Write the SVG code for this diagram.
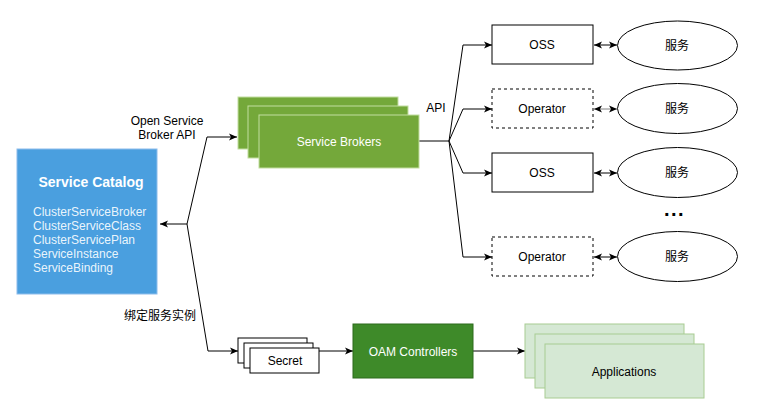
<svg xmlns="http://www.w3.org/2000/svg" width="770" height="418" viewBox="0 0 770 418">
<defs>
<marker id="ah" markerWidth="10" markerHeight="10" refX="9" refY="5" orient="auto" markerUnits="userSpaceOnUse">
<path d="M1,1.5 L9,5 L1,8.5 L3,5 Z" fill="#000"/>
</marker>
<marker id="as" markerWidth="10" markerHeight="10" refX="1" refY="5" orient="auto" markerUnits="userSpaceOnUse">
<path d="M9,1.5 L1,5 L9,8.5 L7,5 Z" fill="#000"/>
</marker>
</defs>
<style>
text{font-family:"Liberation Sans","Noto Sans CJK SC",Arial,sans-serif;font-size:12px}
.c{text-anchor:middle}
.w{fill:#fff}
.box{fill:#fff;stroke:#000;stroke-width:1}
.dash{fill:#fff;stroke:#000;stroke-width:1;stroke-dasharray:3,3}
.svc{fill:#fff;stroke:#000;stroke-width:1}
.sb{fill:#74A83A;stroke:#C2DDA0;stroke-width:1}
.app{fill:#D5E8D4;stroke:#A8CC92;stroke-width:1}
.ln{fill:none;stroke:#000;stroke-width:1}
</style>
<rect width="770" height="418" fill="#fff"/>
<g id="connectors">
<path class="ln" d="M187,224 L160,224" marker-end="url(#ah)"/>
<path class="ln" d="M187,224 L207,137 L237,137" marker-end="url(#ah)"/>
<path class="ln" d="M187,224 L208,351 L238,351" marker-end="url(#ah)"/>
<path class="ln" d="M419,141 L449,141"/>
<path class="ln" d="M449,141 L463,45 L492,45" marker-end="url(#ah)"/>
<path class="ln" d="M449,141 L463,109 L492,109" marker-end="url(#ah)"/>
<path class="ln" d="M449,141 L463,173 L492,173" marker-end="url(#ah)"/>
<path class="ln" d="M449,141 L463,257 L492,257" marker-end="url(#ah)"/>
<path class="ln" d="M594,45 L617,45" marker-start="url(#as)" marker-end="url(#ah)"/>
<path class="ln" d="M594,109 L617,109" style="stroke:#808080" marker-start="url(#as)" marker-end="url(#ah)"/>
<path class="ln" d="M594,173 L617,173" marker-start="url(#as)" marker-end="url(#ah)"/>
<path class="ln" d="M594,257 L617,257" marker-start="url(#as)" marker-end="url(#ah)"/>
<path class="ln" d="M319,351 L353,351" marker-end="url(#ah)"/>
<path class="ln" d="M473,351 L525,351" marker-end="url(#ah)"/>
<text class="c" x="167" y="125">Open Service</text>
<text class="c" x="167" y="139">Broker API</text>
<text class="c" x="436" y="112">API</text>
<text class="c" x="160" y="320">绑定服务实例</text>
</g>
<g id="service-catalog">
<rect x="17" y="149" width="140" height="145" fill="#4A9FDF" stroke="#8CBCEB" stroke-width="1"/>
<text class="c w" x="91" y="187" style="font-size:14px;font-weight:bold">Service Catalog</text>
<text class="w" x="33" y="216" fill-opacity="0.9">ClusterServiceBroker</text>
<text class="w" x="33" y="230" fill-opacity="0.9">ClusterServiceClass</text>
<text class="w" x="33" y="244" fill-opacity="0.9">ClusterServicePlan</text>
<text class="w" x="33" y="258" fill-opacity="0.9">ServiceInstance</text>
<text class="w" x="33" y="272" fill-opacity="0.9">ServiceBinding</text>
</g>
<g id="service-brokers">
<rect class="sb" x="238" y="97" width="160" height="52"/>
<rect class="sb" x="248" y="106" width="160" height="52"/>
<rect class="sb" x="259" y="115" width="160" height="53"/>
<text class="c w" x="339" y="146">Service Brokers</text>
</g>
<g id="oss1">
<rect class="box" x="492" y="25" width="101" height="39"/>
<text class="c" x="542" y="49">OSS</text>
</g>
<g id="operator1">
<rect class="dash" x="492" y="89" width="101" height="39"/>
<text class="c" x="542" y="113">Operator</text>
</g>
<g id="oss2">
<rect class="box" x="492" y="153" width="101" height="39"/>
<text class="c" x="542" y="177">OSS</text>
</g>
<g id="operator2">
<rect class="dash" x="492" y="237" width="101" height="39"/>
<text class="c" x="542" y="261">Operator</text>
</g>
<g id="svc1">
<ellipse class="svc" cx="677.5" cy="45.5" rx="60" ry="24.5"/>
<text class="c" x="677" y="50">服务</text>
</g>
<g id="svc2">
<ellipse class="svc" cx="677.5" cy="108.5" rx="60" ry="25"/>
<text class="c" x="677" y="113">服务</text>
</g>
<g id="svc3">
<ellipse class="svc" cx="677.5" cy="172.5" rx="60" ry="25"/>
<text class="c" x="677" y="177">服务</text>
</g>
<g id="ellipsis">
<text x="664" y="216" style="font-size:20px;font-weight:bold;letter-spacing:1.5px">...</text>
</g>
<g id="svc4">
<ellipse class="svc" cx="677.5" cy="256.5" rx="60" ry="25"/>
<text class="c" x="677" y="261">服务</text>
</g>
<g id="secret">
<rect class="box" x="238" y="338" width="69" height="25"/>
<rect class="box" x="244" y="343" width="69" height="25"/>
<rect class="box" x="250" y="348" width="69" height="25"/>
<text class="c" x="285" y="365">Secret</text>
</g>
<g id="oam-controllers">
<rect x="353" y="324" width="120" height="54" fill="#3E8A29" stroke="#2D6B1C" stroke-width="1"/>
<text class="c w" x="413" y="356">OAM Controllers</text>
</g>
<g id="applications">
<rect class="app" x="525" y="324" width="159" height="54"/>
<rect class="app" x="535" y="334" width="159" height="54"/>
<rect class="app" x="545" y="344" width="159" height="54"/>
<text class="c" x="624" y="376">Applications</text>
</g>
</svg>
